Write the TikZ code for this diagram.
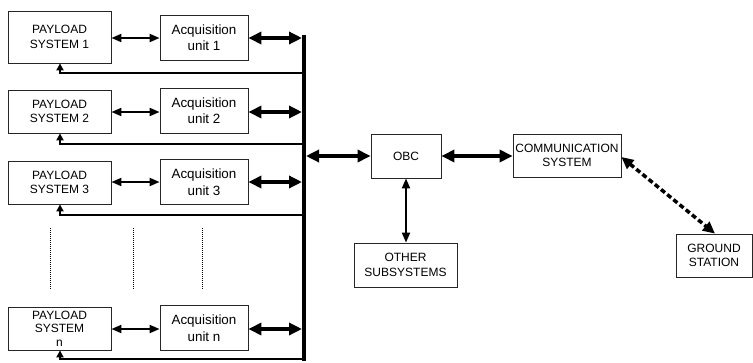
\documentclass[tikz,border=0pt]{standalone}
\usepackage{fontspec}
\setmainfont{Liberation Sans}
\usetikzlibrary{arrows.meta}
\begin{document}
\begin{tikzpicture}[x=1pt,y=-1pt,
  box/.style={draw=black!85,line width=0.8pt,inner sep=0pt,align=center,
    font=\fontsize{12}{14.5}\selectfont},
  pay/.style={box,minimum width=103pt,minimum height=43pt},
  acq/.style={box,minimum width=88pt,minimum height=45pt,font=\fontsize{13.4}{16.5}\selectfont},
  thinarr/.style={line width=2pt,{Triangle[length=10pt,width=8pt]}-{Triangle[length=10pt,width=8pt]}},
  thickarr/.style={line width=3.6pt,{Triangle[length=13pt,width=12pt]}-{Triangle[length=13pt,width=12pt]}},
  ret/.style={line width=2pt,-{Triangle[length=7pt,width=7pt]}},
  dots/.style={line width=1pt,densely dotted}]
\useasboundingbox (0,0) rectangle (753,362);
% payload systems
\node[pay,minimum height=52pt] (p1) at (59.5,37) {PAYLOAD\\SYSTEM 1};
\node[pay] (p2) at (59.5,111.5) {PAYLOAD\\SYSTEM 2};
\node[pay] (p3) at (59.5,182.5) {PAYLOAD\\SYSTEM 3};
\node[pay,font=\fontsize{12}{13.5}\selectfont] (pn) at (59.5,328.5) {PAYLOAD\\SYSTEM\\n};
% acquisition units
\node[acq] (a1) at (204,37.5) {Acquisition\\unit 1};
\node[acq] (a2) at (204,110.5) {Acquisition\\unit 2};
\node[acq] (a3) at (204,182) {Acquisition\\unit 3};
\node[acq] (an) at (204,328) {Acquisition\\unit n};
% bus
\coordinate (btop) at (304,35);
\coordinate (bbot) at (304,361);
\draw[line width=4pt] (btop) -- (bbot);
% other blocks
\node[box,minimum width=70pt,minimum height=44pt] (obc) at (406,156) {OBC};
\node[box,minimum width=108pt,minimum height=43pt] (com) at (567,155.5) {COMMUNICATION\\SYSTEM};
\node[box,minimum width=103pt,minimum height=44pt] (oth) at (405.5,265) {OTHER\\SUBSYSTEMS};
\node[box,minimum width=76pt,minimum height=43pt] (gnd) at (714,255.5) {GROUND\\STATION};
% payload <-> acquisition
\draw[thinarr] (p1.east |- 0,38) -- (a1.west |- 0,38);
\draw[thinarr] (p2.east |- 0,112) -- (a2.west |- 0,112);
\draw[thinarr] (p3.east |- 0,182) -- (a3.west |- 0,182);
\draw[thinarr] (pn.east |- 0,329) -- (an.west |- 0,329);
% acquisition <-> bus
\draw[thickarr] (a1.east |- 0,38) -- (302,38);
\draw[thickarr] (a2.east |- 0,112) -- (302,112);
\draw[thickarr] (a3.east |- 0,182) -- (302,182);
\draw[thickarr] (an.east |- 0,329) -- (302,329);
% return lines
\coordinate (r1) at (304,73);
\coordinate (r2) at (304,144);
\coordinate (r3) at (304,215);
\coordinate (rn) at (304,359);
\draw[ret] (r1) -- (60,73) -- (p1.south -| 60,0);
\draw[ret] (r2) -- (60,144) -- (p2.south -| 60,0);
\draw[ret] (r3) -- (60,215) -- (p3.south -| 60,0);
\draw[ret] (rn) -- (60,359) -- (pn.south -| 60,0);
% dotted continuation
\coordinate (d1a) at (50,228); \coordinate (d1b) at (50,289);
\coordinate (d2a) at (133,228); \coordinate (d2b) at (133,289);
\coordinate (d3a) at (202,228); \coordinate (d3b) at (202,289);
\draw[dots] (d1a) -- (d1b);
\draw[dots] (d2a) -- (d2b);
\draw[dots] (d3a) -- (d3b);
% OBC links
\draw[thickarr] (306,156) -- (obc.west);
\draw[thickarr] (obc.east) -- (com.west |- obc.east);
\draw[line width=2pt,{Triangle[length=10pt,width=8pt]}-{Triangle[length=10pt,width=8pt]}] (obc.south) -- (obc.south |- oth.north);
% radio link
\draw[line width=3.5pt,dash pattern=on 5pt off 3pt,{Triangle[length=12pt,width=11pt]}-{Triangle[length=12pt,width=11pt]}] (com.east |- 0,157) -- (gnd.north -| 715,0);
\end{tikzpicture}
\end{document}
